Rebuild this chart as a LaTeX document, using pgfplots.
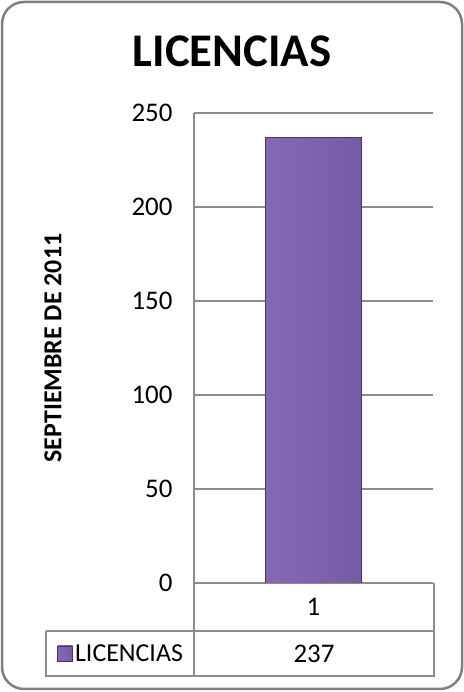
\documentclass[border=0pt]{standalone}
\usepackage{fontspec}
\setmainfont{Carlito}
\usepackage{pgfplots}
\pgfplotsset{compat=1.18}
\definecolor{barpurple}{HTML}{8061B0}
\definecolor{gridgray}{HTML}{8C8C8C}
\definecolor{framegray}{HTML}{7F7F7F}
\begin{document}
\begin{tikzpicture}[x=1bp,y=1bp]
\useasboundingbox (0,0) rectangle (464,692);
\draw[framegray, line width=2.5bp, rounded corners=22bp] (2,3) rectangle (462,690);
\node[font=\bfseries\fontsize{47}{50}\selectfont] at (232,641) {LICENCIAS};
\begin{axis}[
    at={(194bp,109bp)}, anchor=south west,
    scale only axis, width=239bp, height=470bp,
    xmin=0.5, xmax=1.5, ymin=0, ymax=250,
    ytick={0,50,...,250},
    xtick={1}, xticklabels={1},
    ymajorgrids,
    grid style={gridgray, line width=1.2bp},
    axis x line=bottom, axis y line=left,
    axis line style={-, gridgray, line width=1.2bp},
    major tick length=0pt,
    tick label style={font=\fontsize{27}{31}\selectfont},
    /pgf/number format/assume math mode=true,
    yticklabel style={anchor=east, xshift=-18bp},
    xticklabel style={anchor=center, yshift=-24bp},
    ylabel={SEPTIEMBRE DE 2011},
    ylabel style={font=\bfseries\fontsize{26}{30}\selectfont,
        at={(rel axis cs:-0.59,0.5)}, anchor=center},
    legend style={at={(rel axis cs:-0.305,-0.151)}, anchor=center,
        draw=none, fill=none, font=\fontsize{26}{30}\selectfont,
        /tikz/every even column/.append style={column sep=2bp}},
    legend image code/.code={\draw[#1] (0bp,-7bp) rectangle (15bp,8bp);},
  ]
  \addplot[ybar, bar width=96bp, draw=barpurple!55!black, line width=0.8bp,
      left color=barpurple!96!white, right color=barpurple!93!black,
      middle color=barpurple]
    coordinates {(1,237)};
  \addlegendentry{LICENCIAS}
\end{axis}
\draw[gridgray, line width=1.2bp] (194,109) -- (194,16) -- (434,16) -- (434,109);
\draw[gridgray, line width=1.2bp] (46,61) -- (434,61);
\draw[gridgray, line width=1.2bp] (46,61) -- (46,16) -- (194,16);
\node[font=\fontsize{27}{31}\selectfont] at (314,38) {237};
\end{tikzpicture}
\end{document}
